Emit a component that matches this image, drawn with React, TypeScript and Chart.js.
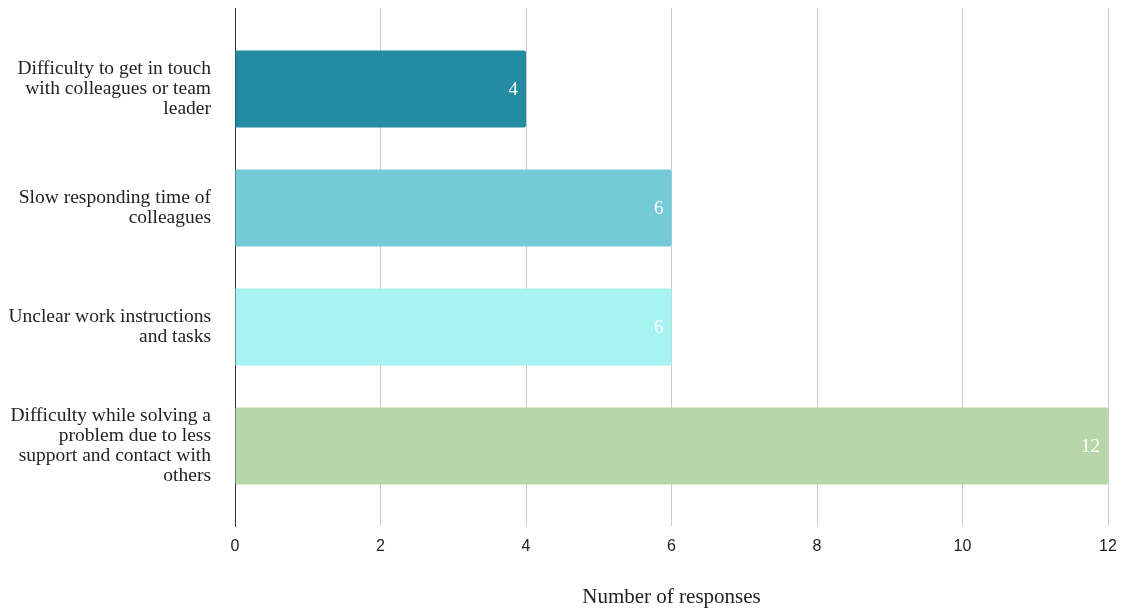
import React, { useEffect, useRef } from "react";
import { Chart, registerables } from "chart.js";

Chart.register(...registerables);

// Survey answers, top to bottom
const categories: string[][] = [
  ["Difficulty to get in touch", "with colleagues or team", "leader"],
  ["Slow responding time of", "colleagues"],
  ["Unclear work instructions", "and tasks"],
  ["Difficulty while solving a", "problem due to less", "support and contact with", "others"],
];
const responses: number[] = [4, 6, 6, 12];
const barColors: string[] = ["#238CA2", "#75CAD7", "#A6F3F1", "#B7D7A8"];
const xTicks: number[] = [0, 2, 4, 6, 8, 10, 12];
const xTitle = "Number of responses";

const SERIF = "'Liberation Serif', 'Times New Roman', serif";
const SANS = "'Liberation Sans', Arial, sans-serif";

// Writes each bar's value just inside its right end
const valueLabels = {
  id: "valueLabels",
  afterDatasetsDraw(chart: any) {
    const { ctx } = chart;
    const meta = chart.getDatasetMeta(0);
    ctx.save();
    ctx.font = `19px ${SERIF}`;
    ctx.fillStyle = "#ffffff";
    ctx.textAlign = "right";
    ctx.textBaseline = "middle";
    meta.data.forEach((bar: any, i: number) => {
      ctx.fillText(String(responses[i]), bar.x - 8, bar.y + 1);
    });
    ctx.restore();
  },
};

export default function App() {
  const canvasRef = useRef<HTMLCanvasElement | null>(null);

  useEffect(() => {
    const canvas = canvasRef.current;
    if (!canvas) return;
    const chart = new Chart(canvas, {
      type: "bar",
      data: {
        datasets: [
          {
            data: responses.map((v, i) => ({ x: v, y: i })),
            backgroundColor: barColors,
            borderRadius: 2,
            borderSkipped: "start",
            categoryPercentage: 1,
            barPercentage: 0.648,
          },
        ],
      },
      options: {
        indexAxis: "y",
        responsive: false,
        animation: false,
        layout: { padding: { top: 8, right: 15, bottom: 0, left: 0 } },
        plugins: {
          legend: { display: false },
          tooltip: { enabled: false },
        },
        scales: {
          x: {
            type: "linear",
            min: 0,
            max: 12,
            afterBuildTicks: (scale: any) => {
              scale.ticks = xTicks.map((v) => ({ value: v }));
            },
            afterFit: (scale: any) => {
              scale.height = 82;
              scale.paddingLeft = 0;
              scale.paddingRight = 0;
            },
            grid: { color: "#cccccc", lineWidth: 1, drawTicks: false },
            border: { display: false },
            ticks: {
              padding: 11,
              color: "#222222",
              font: { family: SANS, size: 16 },
            },
            title: {
              display: true,
              text: xTitle,
              color: "#222222",
              font: { family: SERIF, size: 21 },
              padding: { top: 0, bottom: -2 },
            },
          },
          y: {
            type: "linear",
            reverse: true,
            offset: false,
            min: -0.681,
            max: 3.672,
            afterBuildTicks: (scale: any) => {
              scale.ticks = categories.map((_, i) => ({ value: i }));
            },
            afterFit: (scale: any) => {
              scale.width = 235;
              scale.paddingTop = 0;
              scale.paddingBottom = 0;
            },
            grid: { display: false, drawTicks: false },
            border: { display: true, color: "#333333", width: 1 },
            ticks: {
              padding: 24,
              color: "#222222",
              font: { family: SERIF, size: 19.5, lineHeight: 1.03 },
              callback: (value: any) => categories[value as number],
            },
          },
        },
      },
      plugins: [valueLabels],
    });
    return () => chart.destroy();
  }, []);

  return (
    <div style={{ position: "fixed", left: 0, top: 0, width: 1123, height: 608, background: "#ffffff" }}>
      <canvas ref={canvasRef} width={1123} height={608} style={{ display: "block" }} />
    </div>
  );
}
